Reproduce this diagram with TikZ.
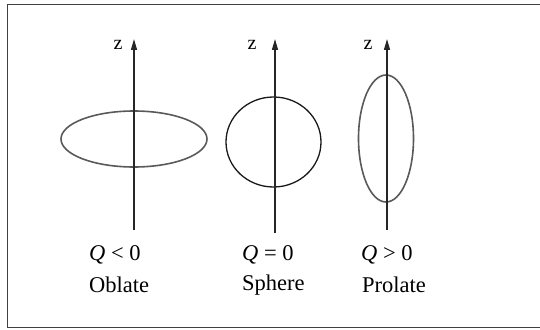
\documentclass[tikz,border=0pt]{standalone}
\usepackage{fontspec}
\setmainfont{Liberation Serif}
\usetikzlibrary{arrows.meta}
\begin{document}
\begin{tikzpicture}[x=1pt,y=-1pt,
  axis/.style={line width=1.4pt,black!85,-{Triangle[length=11pt,width=6pt]}},
  shapeline/.style={line width=1.6pt},
  lbl/.style={inner sep=0pt,font=\fontsize{22.5}{25}\selectfont},
  zlbl/.style={inner sep=0pt,font=\fontsize{20}{22}\selectfont}]
\useasboundingbox (0,0) rectangle (540,329);
\draw[line width=1.6pt,black!75] (7.5,4.5) rectangle (541,327.5);
% coordinates of axes
\coordinate (a1b) at (134,230); \coordinate (a1t) at (134,39);
\coordinate (a2b) at (275,233); \coordinate (a2t) at (275,39);
\coordinate (a3b) at (387,230); \coordinate (a3t) at (387,39);
% shapes
\draw[shapeline,black!65] (134,139) ellipse [x radius=73, y radius=28];
\draw[line width=1.3pt,black!90] (273.5,142) ellipse [x radius=47.5, y radius=45];
\draw[shapeline,black!65] (386,138.5) ellipse [x radius=27.5, y radius=63.5];
% axes
\draw[axis] (a1b) -- (a1t);
\draw[axis] (a2b) -- (a2t);
\draw[axis] (a3b) -- (a3t);
% z labels
\node[zlbl] (z1) at (118,45) {z};
\node[zlbl] (z2) at (252,45) {z};
\node[zlbl] (z3) at (368,45) {z};
% Q labels
\node[lbl,anchor=west] (q1) at (89,255) {\textit{Q} < 0};
\node[lbl,anchor=west] (q2) at (242,255) {\textit{Q} = 0};
\node[lbl,anchor=west] (q3) at (361,255) {\textit{Q} > 0};
\node[lbl,anchor=west] (n1) at (89,285) {Oblate};
\node[lbl,anchor=west] (n2) at (242,285) {Sphere};
\node[lbl,anchor=west] (n3) at (362,285) {Prolate};
\end{tikzpicture}
\end{document}
